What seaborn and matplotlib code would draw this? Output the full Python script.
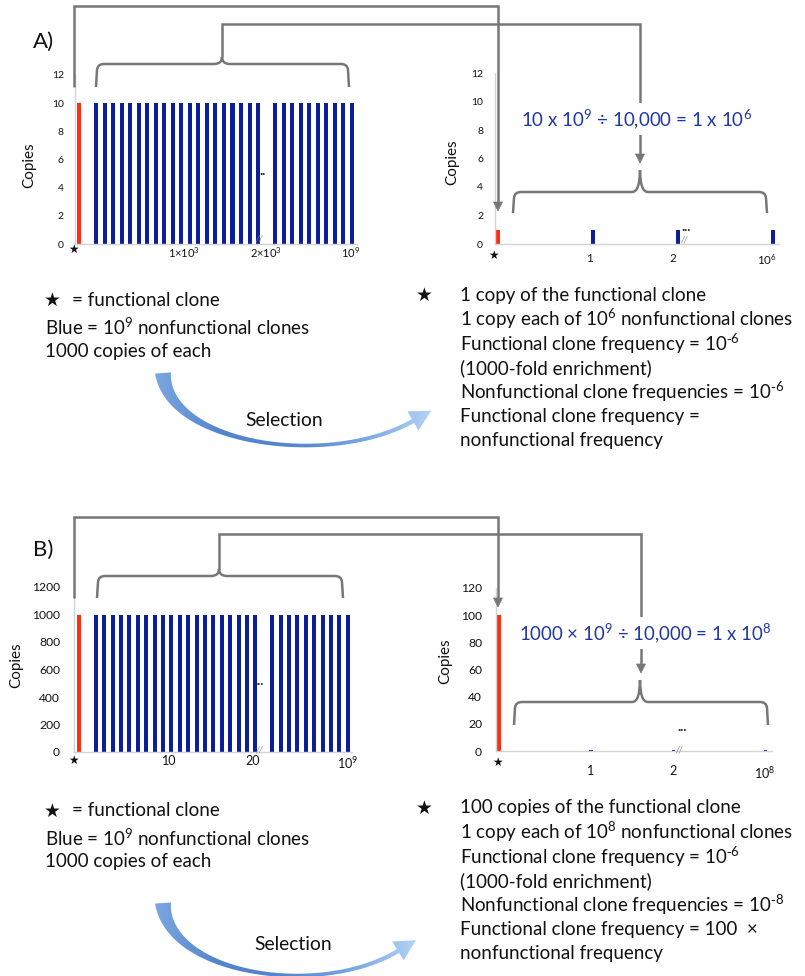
import matplotlib
matplotlib.use("Agg")
import numpy as np
import pandas as pd
import matplotlib.pyplot as plt
import seaborn as sns
from matplotlib.path import Path
from matplotlib.patches import PathPatch, Polygon
from matplotlib.lines import Line2D
from matplotlib.colors import LinearSegmentedColormap

# ---------------- data ----------------
# Panel A, before selection (10 copies of every clone)
a_before_func_slots = [0]
a_before_func_copies = [10]
a_before_nonfunc_slots = [2, 3, 4, 5, 6, 7, 8, 9, 10, 11, 12, 13, 14, 15, 16, 17, 18, 19, 20, 21,
                          23, 24, 25, 26, 27, 28, 29, 30, 31, 32]
a_before_nonfunc_copies = [10, 10, 10, 10, 10, 10, 10, 10, 10, 10, 10, 10, 10, 10, 10, 10, 10, 10, 10, 10,
                           10, 10, 10, 10, 10, 10, 10, 10, 10, 10]
a_before_xtick_pos = [12.3, 21.9, 31.8]
a_before_xtick_labels = ["1\u00d710$^{3}$", "2\u00d710$^{3}$", "10$^{9}$"]
a_before_yticks = [0, 2, 4, 6, 8, 10, 12]

# Panel A, after selection
a_after_func_slots = [0]
a_after_func_copies = [1]
a_after_nonfunc_slots = [10, 19, 29]
a_after_nonfunc_copies = [1, 1, 1]
a_after_xtick_pos = [9.6, 18.4, 28.3]
a_after_xtick_labels = ["1", "2", "10$^{6}$"]
a_after_yticks = [0, 2, 4, 6, 8, 10, 12]

# Panel B, before selection (1000 copies of every clone)
b_before_func_slots = [0]
b_before_func_copies = [1000]
b_before_nonfunc_slots = [2, 3, 4, 5, 6, 7, 8, 9, 10, 11, 12, 13, 14, 15, 16, 17, 18, 19, 20, 21,
                          23, 24, 25, 26, 27, 28, 29, 30, 31, 32]
b_before_nonfunc_copies = [1000, 1000, 1000, 1000, 1000, 1000, 1000, 1000, 1000, 1000,
                           1000, 1000, 1000, 1000, 1000, 1000, 1000, 1000, 1000, 1000,
                           1000, 1000, 1000, 1000, 1000, 1000, 1000, 1000, 1000, 1000]
b_before_xtick_pos = [10.7, 20.7, 32.0]
b_before_xtick_labels = ["10", "20", "10$^{9}$"]
b_before_yticks = [0, 200, 400, 600, 800, 1000, 1200]

# Panel B, after selection
b_after_func_slots = [0]
b_after_func_copies = [100]
b_after_nonfunc_slots = [10, 19, 29]
b_after_nonfunc_copies = [1, 1, 1]
b_after_xtick_pos = [10.0, 18.9, 28.9]
b_after_xtick_labels = ["1", "2", "10$^{8}$"]
b_after_yticks = [0, 20, 40, 60, 80, 100, 120]

NEG6 = r"10$^{\text{-}6}$"
NEG8 = r"10$^{\text{-}8}$"
a_left_text = ["Blue = 10$^{9}$ nonfunctional clones", "1000 copies of each"]
a_right_text = ["1 copy of the functional clone",
                "1 copy each of 10$^{6}$ nonfunctional clones",
                "Functional clone frequency = " + NEG6,
                "(1000-fold enrichment)",
                "Nonfunctional clone frequencies = " + NEG6,
                "Functional clone frequency =",
                "nonfunctional frequency"]
b_left_text = ["Blue = 10$^{9}$ nonfunctional clones", "1000 copies of each"]
b_right_text = ["100 copies of the functional clone",
                "1 copy each of 10$^{8}$ nonfunctional clones",
                "Functional clone frequency = " + NEG6,
                "(1000-fold enrichment)",
                "Nonfunctional clone frequencies = " + NEG8,
                "Functional clone frequency = 100  \u00d7",
                "nonfunctional frequency"]
a_formula = "10 x 10$^{9}$ \u00f7 10,000 = 1 x 10$^{6}$"
b_formula = "1000 \u00d7 10$^{9}$ \u00f7 10,000 = 1 x 10$^{8}$"

# ---------------- style ----------------
sns.set_theme(style="white")
plt.rcParams["font.family"] = ["Lato", "DejaVu Sans"]
plt.rcParams["mathtext.default"] = "regular"
plt.rcParams["text.color"] = "#111111"
plt.rcParams["axes.labelcolor"] = "#111111"
plt.rcParams["xtick.color"] = "#111111"
plt.rcParams["ytick.color"] = "#111111"

RED = "#ff2d12"
NAVY = "#0c1f99"
GREY = "#777777"
SPINE = "#d4d4d4"
FORMULA = "#1f36a8"

W, H = 805, 976
fig = plt.figure(figsize=(W / 100, H / 100), dpi=100)
fig.patch.set_facecolor("white")


def add_ax(x0, x1, ytop, ybot):
    return fig.add_axes([x0 / W, 1 - ybot / H, (x1 - x0) / W, (ybot - ytop) / H])


def make_df(fs, fc, ns, nc):
    return pd.DataFrame({
        "slot": [str(s) for s in fs + ns],
        "copies": fc + nc,
        "clone": ["functional"] * len(fs) + ["nonfunctional"] * len(ns),
    })


def bar_panel(box, df, nslots, width, xlim, ylim, yticks, xpos, xlabels,
              xfs, yfs, xpad, ypad, ylab_xy):
    x0, x1, ytop, ybot = box
    ax = add_ax(x0, x1, ytop, ybot)
    sns.barplot(data=df, x="slot", y="copies", hue="clone",
                order=[str(i) for i in range(nslots)],
                hue_order=["functional", "nonfunctional"],
                palette={"functional": RED, "nonfunctional": NAVY},
                dodge=False, width=width, saturation=1, errorbar=None,
                legend=False, linewidth=0, ax=ax)
    ax.set_xlim(*xlim)
    ax.set_ylim(*ylim)
    ax.set_yticks(yticks)
    ax.set_yticklabels([str(v) for v in yticks], fontsize=yfs)
    ax.set_xticks(xpos)
    ax.set_xticklabels(xlabels, fontsize=xfs)
    ax.tick_params(axis="x", length=0, pad=xpad)
    ax.tick_params(axis="y", length=0, pad=ypad)
    ax.set_xlabel("")
    ax.set_ylabel("Copies", fontsize=11)
    ax.yaxis.label.set_va("center")
    ax.yaxis.set_label_coords((ylab_xy[0] - x0) / (x1 - x0),
                              (ybot - ylab_xy[1]) / (ybot - ytop))
    sns.despine(ax=ax)
    for s in ("left", "bottom"):
        ax.spines[s].set_color(SPINE)
        ax.spines[s].set_linewidth(1.0)
    ax.patch.set_alpha(0)
    return ax


bar_panel((75, 357, 75, 244),
          make_df(a_before_func_slots, a_before_func_copies, a_before_nonfunc_slots, a_before_nonfunc_copies),
          33, 0.47, (-0.47, 32.6), (0, 12), a_before_yticks,
          a_before_xtick_pos, a_before_xtick_labels, 8, 7.5, 0.7, 8, (29, 165))
bar_panel((495, 779, 73, 244),
          make_df(a_after_func_slots, a_after_func_copies, a_after_nonfunc_slots, a_after_nonfunc_copies),
          30, 0.42, (-0.32, 29.6), (0, 12), a_after_yticks,
          a_after_xtick_pos, a_after_xtick_labels, 8.3, 7.5, 6.3, 8.6, (452, 162))
bar_panel((74, 352, 587, 752),
          make_df(b_before_func_slots, b_before_func_copies, b_before_nonfunc_slots, b_before_nonfunc_copies),
          33, 0.47, (-0.6, 32.5), (0, 1200), b_before_yticks,
          b_before_xtick_pos, b_before_xtick_labels, 9, 8.7, 2.5, 10, (16, 665))
bar_panel((496, 772, 588, 751),
          make_df(b_after_func_slots, b_after_func_copies, b_after_nonfunc_slots, b_after_nonfunc_copies),
          30, 0.40, (-0.33, 29.7), (0, 120), b_after_yticks,
          b_after_xtick_pos, b_after_xtick_labels, 9, 8.7, 10, 10, (445, 661))

# ---------------- overlay in pixel coordinates ----------------
ov = fig.add_axes([0, 0, 1, 1])
ov.axis("off")
ov.set_facecolor("none")
renderer = fig.canvas.get_renderer()

LW = 1.8


def polyline(pts):
    xs, ys = zip(*pts)
    ov.add_line(Line2D(xs, ys, color=GREY, lw=LW, solid_joinstyle="miter",
                       solid_capstyle="butt", zorder=4))


def arrow_down(x, ystart_pts, tip):
    polyline(ystart_pts + [(x, tip - 8)])
    ov.add_patch(Polygon([(x - 4.5, tip - 9), (x + 4.5, tip - 9), (x, tip)],
                         closed=True, facecolor=GREY, edgecolor=GREY, lw=0.5, zorder=4))


def curly(x0, x1, xc, yb, yt, yc, rc=8):
    verts = [(x0, yb), (x0 + 1, yt + 6), (x0 + 1.5, yt), (x0 + 8, yt),
             (xc - rc, yt), (xc, yt), (xc, yc),
             (xc, yt), (xc + rc, yt),
             (x1 - 8, yt), (x1 - 1.5, yt), (x1 - 1, yt + 6), (x1, yb)]
    codes = [Path.MOVETO, Path.LINETO, Path.CURVE3, Path.CURVE3,
             Path.LINETO, Path.CURVE3, Path.CURVE3,
             Path.CURVE3, Path.CURVE3,
             Path.LINETO, Path.CURVE3, Path.CURVE3, Path.LINETO]
    ov.add_patch(PathPatch(Path(verts, codes), facecolor="none", edgecolor=GREY,
                           lw=LW, zorder=4))


# Panel A connectors
arrow_down(498, [(74, 87), (74, 6), (498, 6)], 211)
curly(96, 349, 222, 87, 64, 57)
arrow_down(640, [(222, 57), (222, 24), (640, 24)], 163)
curly(513, 767, 640, 213, 192, 170)
# Panel B connectors
arrow_down(498, [(74, 598), (74, 517), (498, 517)], 607)
curly(97, 343, 219, 598, 576, 569)
arrow_down(641, [(219, 569), (219, 534), (641, 534)], 673)
curly(514, 768, 640, 725, 702, 680)

# Formulas
for txt, (cx, cy), tw in [(a_formula, (637, 119), 230), (b_formula, (645, 633), 252)]:
    t = ov.text(cx, cy, txt, color=FORMULA, fontsize=13, ha="center", va="center",
                zorder=6, bbox=dict(facecolor="white", edgecolor="none", pad=3))
    w = t.get_window_extent(renderer).width
    t.set_fontsize(13 * tw / w)

# Panel letters
ov.text(43, 42, "A)", fontsize=16, ha="center", va="center")
ov.text(43, 550, "B)", fontsize=16, ha="center", va="center")

# axis stars, ellipses and break marks
for (x, y) in [(73, 249), (493, 255), (73, 760), (497, 762)]:
    ov.text(x, y, "\u2605", fontsize=8.5, ha="center", va="center",
            family=["DejaVu Sans"], zorder=6)
for (x, y, s) in [(263, 171, ".."), (259, 681, "..."), (686, 227, "..."), (682, 727, "...")]:
    ov.text(x, y, s, fontsize=9.5, ha="center", va="center", color="#222222",
            fontweight="bold", zorder=6)
for (x, y) in [(259, 239), (259, 750), (684, 240), (679, 750)]:
    ov.text(x, y, "//", fontsize=6.5, ha="center", va="center", color="#888888",
            style="italic", zorder=6)

# body text - size fitted to reference width
probe = ov.text(460, 0, a_right_text[1], fontsize=14, ha="left", va="center")
BODY = 14 * 334 / probe.get_window_extent(renderer).width
probe.remove()
probe = ov.text(0, 0, "Selection", fontsize=14, ha="left", va="center")
SEL = 14 * 78 / probe.get_window_extent(renderer).width
probe.remove()

for lines_l, lines_r, ys_l, y0_r in [
        (a_left_text, a_right_text, [300, 327, 351], 295),
        (b_left_text, b_right_text, [811, 838, 862], 808)]:
    ov.text(52, ys_l[0], "\u2605", fontsize=BODY, ha="center", va="center",
            family=["DejaVu Sans"])
    ov.text(72, ys_l[0], "= functional clone", fontsize=BODY, ha="left", va="center")
    for txt, y in zip(lines_l, ys_l[1:]):
        ov.text(45, y, txt, fontsize=BODY, ha="left", va="center")
    ov.text(424, y0_r, "\u2605", fontsize=BODY, ha="center", va="center",
            family=["DejaVu Sans"])
    for i, txt in enumerate(lines_r):
        ov.text(460, y0_r + 24.3 * i, txt, fontsize=BODY, ha="left", va="center")

# Selection arrows (gradient crescent)
cmap = LinearSegmentedColormap.from_list(
    "sel", ["#7eaae2", "#5283cc", "#5686cd", "#7aa8e0", "#b8d7f8"])


def selection_arrow(dy, xs, label_xy):
    P = np.array([[163, 373], [168, 445], [330, 468], [413, 421]], float)
    P[:, 0] = 163 + (P[:, 0] - 163) * xs
    P[:, 1] += dy
    t = np.linspace(0, 1, 120)[:, None]
    pts = ((1 - t) ** 3) * P[0] + 3 * ((1 - t) ** 2) * t * P[1] + 3 * (1 - t) * t ** 2 * P[2] + t ** 3 * P[3]
    der = 3 * ((1 - t) ** 2) * (P[1] - P[0]) + 6 * (1 - t) * t * (P[2] - P[1]) + 3 * t ** 2 * (P[3] - P[2])
    tang = der / np.linalg.norm(der, axis=1, keepdims=True)
    nrm = np.column_stack([-tang[:, 1], tang[:, 0]])
    w = 3.0 + 13.0 * (1 - t[:, 0]) ** 4 + 1.5 * t[:, 0] ** 3
    left = pts + nrm * (w[:, None] / 2)
    right = pts - nrm * (w[:, None] / 2)
    d = tang[-1]
    n1 = nrm[-1]
    tip = P[3] + d * 21
    head = [P[3] + n1 * 11, tip, P[3] - n1 * 11]
    verts = np.vstack([left, head, right[::-1]])
    poly = Polygon(verts, closed=True, facecolor="none", edgecolor="none",
                   transform=ov.transData)
    ov.add_patch(poly)
    grad = np.linspace(0, 1, 256)[None, :]
    x_right = P[3, 0] + 24
    im = ov.imshow(np.vstack([grad, grad]), extent=(150, x_right, 480 + dy, 360 + dy),
                   aspect="auto", cmap=cmap, zorder=3, interpolation="bilinear")
    im.set_clip_path(poly)
    ov.text(label_xy[0], label_xy[1], "Selection", fontsize=SEL, ha="center", va="center")


selection_arrow(0, 1.0, (284, 420))
selection_arrow(530, 0.94, (293, 945))

ov.set_xlim(0, W)
ov.set_ylim(H, 0)

fig.savefig("out.png", dpi=100, facecolor="white")
